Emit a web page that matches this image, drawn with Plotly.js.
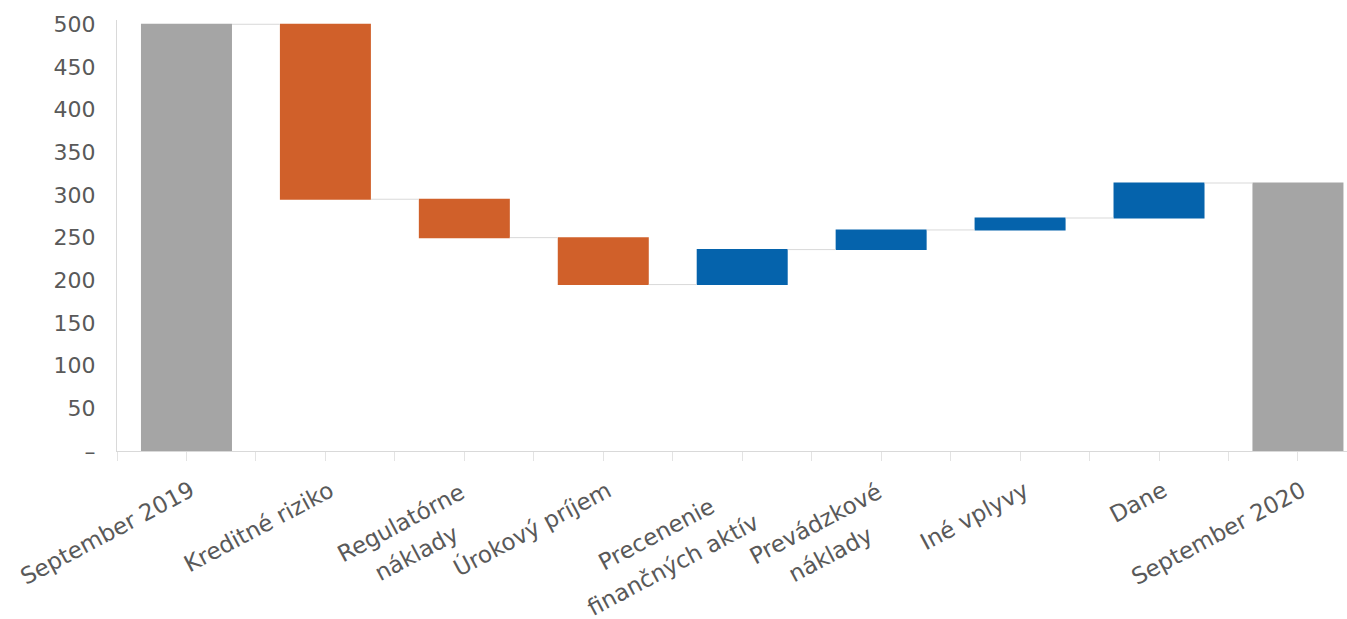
<!DOCTYPE html>
<html>
<head>
<meta charset="utf-8">
<script src="https://cdn.plot.ly/plotly-3.0.1.min.js"></script>
<style>html,body{margin:0;padding:0;background:#fff;}#chart{width:1347px;height:619px;}</style>
</head>
<body>
<div id="chart"></div>
<script>
const categories = ["September 2019", "Kreditné riziko", "Regulatórne<br>náklady", "Úrokový príjem", "Precenenie<br>finančných aktív", "Prevádzkové<br>náklady", "Iné vplyvy", "Dane", "September 2020"];
const measures = ["absolute", "relative", "relative", "relative", "relative", "relative", "relative", "relative", "total"];
const values = [500, -205, -45, -55, 41, 23, 14, 41, 0];
const yTickVals = [0, 50, 100, 150, 200, 250, 300, 350, 400, 450, 500];
const yTickText = ["–", "50", "100", "150", "200", "250", "300", "350", "400", "450", "500"];

const xIdx = categories.map((c, i) => i);
const xTickVals = [];
for (let i = 0; i < categories.length; i++) { xTickVals.push(i - 0.5); xTickVals.push(i); }

const FONT = "DejaVu Sans, Open Sans, sans-serif";
const LABEL_SIZE = 23;
const ANGLE = -28;
const LINE_GAP = 34;
const cosA = Math.cos(-ANGLE * Math.PI / 180);
const sinA = Math.sin(-ANGLE * Math.PI / 180);

const ctx = document.createElement("canvas").getContext("2d");
ctx.font = LABEL_SIZE + "px 'DejaVu Sans'";

const annotations = [];
categories.forEach((c, i) => {
  const lines = c.split("<br>");
  const n = lines.length;
  const widths = lines.map(t => ctx.measureText(t).width);
  const W = Math.max(...widths);
  // right-middle point of the rotated label block, relative to tick point on axis
  const rmx = 6, rmy = 37 + (n - 1) * LINE_GAP / 2;
  const bcx = rmx - (W / 2) * cosA;
  const bcy = rmy + (W / 2) * sinA;
  lines.forEach((t, k) => {
    const off = (k - (n - 1) / 2) * LINE_GAP;
    annotations.push({
      x: i, xref: "x", y: 0, yref: "paper",
      text: t, showarrow: false, textangle: ANGLE,
      xanchor: "center", yanchor: "middle", borderpad: 0,
      xshift: bcx + off * sinA, yshift: -(bcy + off * cosA),
      font: {family: FONT, size: LABEL_SIZE, color: "#595959"}
    });
  });
});

const trace = {
  type: "waterfall",
  x: xIdx,
  y: values,
  measure: measures,
  width: 0.655,
  increasing: {marker: {color: "#0563AC"}},
  decreasing: {marker: {color: "#D0602A"}},
  totals: {marker: {color: "#A5A5A5"}},
  connector: {line: {color: "#D9D9D9", width: 1}},
  textinfo: "none",
  hoverinfo: "x+y"
};

const layout = {
  width: 1347, height: 619,
  margin: {l: 116.5, r: 0, t: 20, b: 168},
  paper_bgcolor: "#fff", plot_bgcolor: "#fff",
  showlegend: false,
  font: {family: FONT, color: "#595959"},
  annotations: annotations,
  xaxis: {
    range: [-0.5, 8.353],
    tickvals: xTickVals,
    showticklabels: false,
    ticks: "outside", ticklen: 9, tickcolor: "#E3E3E3",
    showline: true, linecolor: "#D9D9D9", linewidth: 1,
    showgrid: false, zeroline: false
  },
  yaxis: {
    range: [0, 505],
    tickvals: yTickVals, ticktext: yTickText,
    showline: true, linecolor: "#D9D9D9", linewidth: 1,
    showgrid: false, zeroline: false, ticks: "",
    tickfont: {size: 22, color: "#595959", family: FONT},
    ticklabelstandoff: 16
  }
};

Plotly.newPlot("chart", [trace], layout, {staticPlot: true, displayModeBar: false});
</script>
</body>
</html>
